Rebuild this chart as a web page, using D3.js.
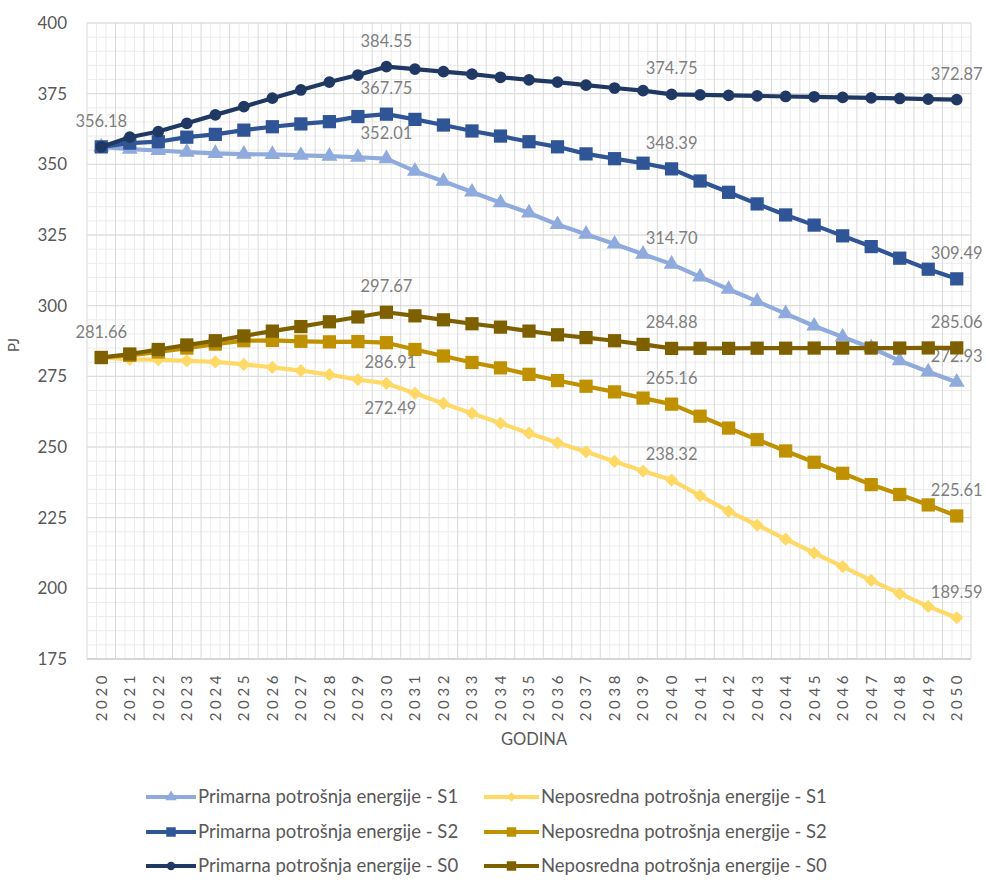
<!DOCTYPE html>
<html><head><meta charset="utf-8">
<script src="https://cdn.jsdelivr.net/npm/d3@7"></script>
<style>body{margin:0;background:#fff;} svg{display:block;font-family:Lato,"Open Sans",sans-serif;}</style>
</head><body><svg id="c" width="986" height="882"></svg>
<script>
// ---------- DATA ----------
const years = [2020,2021,2022,2023,2024,2025,2026,2027,2028,2029,2030,2031,2032,2033,2034,2035,2036,2037,2038,2039,2040,2041,2042,2043,2044,2045,2046,2047,2048,2049,2050];
const yTicks = [175,200,225,250,275,300,325,350,375,400];

const primarnaS1 = [356.18,355.4,354.9,354.3,353.9,353.6,353.5,353.2,352.9,352.5,352.01,347.6,344.0,340.2,336.4,332.8,328.7,325.3,321.8,318.2,314.70,310.2,305.8,301.5,297.2,292.8,288.9,285.1,280.5,276.6,272.93];
const neposrednaS1 = [281.66,281.0,280.9,280.5,280.1,279.2,278.2,277.0,275.6,273.8,272.49,269.0,265.4,261.9,258.4,254.9,251.5,248.3,244.9,241.5,238.32,232.8,227.2,222.4,217.4,212.5,207.7,202.8,198.1,193.6,189.59];
const primarnaS2 = [356.18,357.5,358.0,359.6,360.6,362.1,363.3,364.3,365.1,366.9,367.75,365.9,363.9,361.8,360.0,358.0,356.2,353.7,352.0,350.4,348.39,344.1,340.1,336.0,332.1,328.5,324.7,320.9,316.8,312.9,309.49];
const neposrednaS2 = [281.66,282.4,283.6,285.0,286.4,287.6,287.7,287.4,287.2,287.3,286.91,284.5,282.2,279.9,278.0,275.7,273.5,271.5,269.5,267.3,265.16,260.9,256.7,252.6,248.6,244.6,240.7,236.7,233.2,229.5,225.61];
const primarnaS0 = [356.18,359.6,361.6,364.5,367.5,370.4,373.4,376.3,379.1,381.6,384.55,383.7,382.8,381.9,380.8,379.9,379.1,378.0,377.0,376.1,374.75,374.6,374.4,374.2,374.0,373.9,373.7,373.5,373.3,373.1,372.87];
const neposrednaS0 = [281.66,282.9,284.5,286.1,287.6,289.3,291.0,292.6,294.3,296.0,297.67,296.4,295.0,293.6,292.4,291.0,289.7,288.7,287.6,286.3,284.88,284.9,284.9,284.95,284.95,285.0,285.0,285.0,285.0,285.05,285.06];

const seriesNames = ["Primarna potrošnja energije - S1","Neposredna potrošnja energije - S1","Primarna potrošnja energije - S2","Neposredna potrošnja energije - S2","Primarna potrošnja energije - S0","Neposredna potrošnja energije - S0"];
const seriesValues = [primarnaS1, neposrednaS1, primarnaS2, neposrednaS2, primarnaS0, neposrednaS0];
const labeledYears = [[2030,2040,2050],[2030,2040,2050],[2030,2040,2050],[2030,2040,2050],[2020,2030,2040,2050],[2020,2030,2040,2050]];
const xTitle = "GODINA";
const yTitle = "PJ";

// ---------- STYLE ----------
const colors = ["#8FAADC","#FFD966","#2F5597","#BF9000","#1F3864","#7F6000"];
const markers = ["triangle","diamond","square","square","circle","square"];
const belowLabels = {"1-2030": 31, "3-2030": 25};

const svg = d3.select("#c");
const pL = 87, pR = 971, pT = 23, pB = 659;
const x = d3.scaleBand().domain(years).range([pL, pR]).paddingInner(0).paddingOuter(0);
const bw = x.bandwidth();
const cx = d => x(d) + bw / 2;
const y = d3.scaleLinear().domain([175, 400]).range([pB, pT]);

const g = svg.append("g");
d3.range(175, 400.1, 5).forEach(v => {
  g.append("line").attr("x1", pL).attr("x2", pR).attr("y1", y(v)).attr("y2", y(v))
    .attr("stroke", "#ececec").attr("stroke-width", 1);
});
years.forEach(yr => {
  [1/3, 2/3].forEach(f => {
    const xx = x(yr) + bw * f;
    g.append("line").attr("x1", xx).attr("x2", xx).attr("y1", pT).attr("y2", pB)
      .attr("stroke", "#ececec").attr("stroke-width", 1);
  });
});
yTicks.forEach(v => {
  g.append("line").attr("x1", pL).attr("x2", pR).attr("y1", y(v)).attr("y2", y(v))
    .attr("stroke", "#d9d9d9").attr("stroke-width", 1);
});
years.concat([null]).forEach(yr => {
  const xx = yr === null ? pR : x(yr);
  g.append("line").attr("x1", xx).attr("x2", xx).attr("y1", pT).attr("y2", pB)
    .attr("stroke", "#d9d9d9").attr("stroke-width", 1);
});
g.append("line").attr("x1", pL).attr("x2", pR).attr("y1", pB).attr("y2", pB)
  .attr("stroke", "#d0d0d0").attr("stroke-width", 1.3);

const yAxis = d3.axisLeft(y).tickValues(yTicks).tickSize(0).tickPadding(20);
const ya = svg.append("g").attr("transform", `translate(${pL},0)`).call(yAxis);
ya.select(".domain").remove();
ya.selectAll("text").attr("font-size", 17).attr("fill", "#595959").attr("font-family", "Lato");

const xAxis = d3.axisBottom(x).tickSize(0).tickPadding(0);
const xa = svg.append("g").attr("transform", `translate(0,${pB})`).call(xAxis);
xa.select(".domain").remove();
xa.selectAll("text")
  .attr("font-size", 15).attr("fill", "#595959").attr("font-family", "Lato")
  .attr("letter-spacing", "3.6px")
  .attr("text-anchor", "end")
  .attr("transform", "translate(0,13) rotate(-90)")
  .attr("x", 0).attr("y", 0).attr("dy", "0.36em");

svg.append("text").attr("x", 534).attr("y", 745).attr("text-anchor", "middle")
  .attr("font-size", 16.5).attr("fill", "#595959").text(xTitle);
svg.append("text").attr("transform", "translate(19,345) rotate(-90)").attr("text-anchor", "middle")
  .attr("font-size", 15).attr("fill", "#595959").text(yTitle);

function symbolPath(type, size) {
  if (type === "triangle") return d3.symbol(d3.symbolTriangle, size * 0.62)();
  if (type === "square") return d3.symbol(d3.symbolSquare, size)();
  if (type === "circle") return d3.symbol(d3.symbolCircle, size * 0.62)();
  if (type === "diamond") return d3.symbol(d3.symbolSquare, size * 0.5)();
}
function symbolRot(type) { return type === "diamond" ? " rotate(45)" : ""; }

const line = d3.line().x(d => cx(d.year)).y(d => y(d.v));

seriesValues.forEach((vals, si) => {
  const data = years.map((yr, i) => ({ year: yr, v: vals[i] }));
  const sg = svg.append("g");
  sg.append("path").datum(data).attr("d", line).attr("fill", "none")
    .attr("stroke", colors[si]).attr("stroke-width", 4.2).attr("stroke-linejoin", "round");
  sg.selectAll("path.m").data(data).enter().append("path").attr("class", "m")
    .attr("d", symbolPath(markers[si], 175))
    .attr("transform", d => `translate(${cx(d.year)},${y(d.v)})${symbolRot(markers[si])}`)
    .attr("fill", colors[si]);
  data.filter(d => labeledYears[si].includes(d.year)).forEach(d => {
    const below = belowLabels[si + "-" + d.year];
    sg.append("text")
      .attr("x", cx(d.year) + (below ? 4 : 0))
      .attr("y", below ? y(d.v) + below : y(d.v) - 20)
      .attr("text-anchor", "middle").attr("font-size", 16.5).attr("fill", "#7f7f7f")
      .text(d.v.toFixed(2));
  });
});

const legendCols = [146, 484];
const legendRows = [797, 832, 866];
seriesValues.forEach((_, si) => {
  const col = si % 2, row = Math.floor(si / 2);
  const lx = legendCols[col], ly = legendRows[row];
  const lw = col === 0 ? 50 : 55;
  const lg = svg.append("g");
  lg.append("line").attr("x1", lx).attr("x2", lx + lw).attr("y1", ly).attr("y2", ly)
    .attr("stroke", colors[si]).attr("stroke-width", 4);
  lg.append("path").attr("d", symbolPath(markers[si], 90))
    .attr("transform", `translate(${lx + lw / 2},${ly})${symbolRot(markers[si])}`)
    .attr("fill", colors[si]);
  lg.append("text").attr("x", lx + lw + 2).attr("y", ly).attr("dy", "0.35em")
    .attr("font-size", 18.5).attr("fill", "#595959").text(seriesNames[si]);
});
</script>
</body></html>
